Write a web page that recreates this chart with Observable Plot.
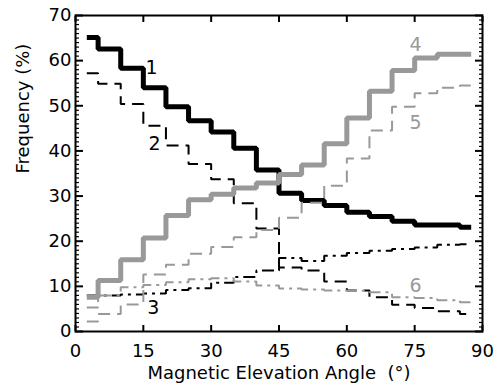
<!DOCTYPE html>
<html>
<head>
<meta charset="utf-8">
<script src="https://cdn.jsdelivr.net/npm/d3@7"></script>
<script src="https://cdn.jsdelivr.net/npm/@observablehq/plot@0.6"></script>
<style>
  html, body { margin: 0; padding: 0; background: white; }
</style>
</head>
<body>
<div id="chart"></div>
<script>
// Bin centres (degrees)
const angles = [2.5, 7.5, 12.5, 17.5, 22.5, 27.5, 32.5, 37.5, 42.5, 47.5, 52.5, 57.5, 62.5, 67.5, 72.5, 77.5, 82.5, 87.5];

// Series values (%)
const series1 = [65.1, 62.6, 58.3, 54.0, 49.8, 46.7, 44.2, 40.6, 35.8, 30.6, 29.0, 27.9, 26.4, 25.5, 24.4, 23.6, 23.6, 23.1];
const series2 = [57.2, 54.9, 50.4, 45.6, 41.2, 37.1, 33.7, 28.4, 22.8, 14.2, 13.5, 11.1, 9.1, 7.6, 5.9, 5.2, 4.5, 3.9];
const series3 = [8.0, 8.0, 8.2, 8.4, 9.2, 9.6, 10.8, 12.1, 13.5, 16.3, 15.6, 16.8, 17.4, 17.9, 18.3, 18.6, 19.2, 19.3];
const series4 = [7.6, 11.3, 15.9, 20.7, 25.7, 29.2, 30.4, 31.8, 32.9, 34.8, 36.9, 41.6, 47.3, 53.2, 57.8, 60.6, 61.4, 61.4];
const series5 = [2.2, 3.9, 6.0, 12.6, 14.8, 17.2, 18.7, 20.9, 22.5, 25.2, 28.5, 32.3, 38.3, 44.5, 49.8, 52.8, 54.0, 54.5];
const series6 = [5.3, 8.0, 9.8, 10.3, 10.9, 11.6, 11.8, 11.1, 10.2, 9.5, 9.3, 9.1, 9.0, 8.7, 7.6, 7.4, 6.9, 6.5];

// Curve labels and their anchor points (data units)
const labelText = ["1", "2", "3", "4", "5", "6"];
const labelX = [16.8, 17.5, 17.2, 75.2, 75.2, 75.2];
const labelY = [58.5, 41.6, 5.3, 63.4, 46.3, 10.2];

// Tick labels
const xTicks = [0, 15, 30, 45, 60, 75, 90];
const yTicks = [0, 10, 20, 30, 40, 50, 60, 70];
const yMinorTicks = d3.range(0, 71).filter(v => v % 10 !== 0);

const xTitle = "Magnetic Elevation Angle\u00a0\u00a0(\u00b0)";
const yTitle = "Frequency (%)";

const GRAY = "#999999";
const FONT = "'DejaVu Sans', Verdana, sans-serif";

const toRows = vals => angles.map((a, i) => ({angle: a, value: vals[i]}));

const styles = [
  {vals: series1, stroke: "black", strokeWidth: 5, dash: null},
  {vals: series2, stroke: "black", strokeWidth: 2, dash: "12,7"},
  {vals: series3, stroke: "black", strokeWidth: 2, dash: "12,5,3,5"},
  {vals: series5, stroke: GRAY, strokeWidth: 2, dash: "12,7"},
  {vals: series6, stroke: GRAY, strokeWidth: 2, dash: "12,5,3,5"},
  {vals: series4, stroke: GRAY, strokeWidth: 5, dash: null}
];

const labels = labelText.map((t, i) => ({text: t, x: labelX[i], y: labelY[i], gray: i >= 3}));

const chart = Plot.plot({
  width: 495,
  height: 386,
  marginLeft: 75,
  marginRight: 13,
  marginTop: 15,
  marginBottom: 55,
  x: {domain: [0, 90]},
  y: {domain: [0, 70]},
  style: {fontFamily: FONT, fontSize: "18px", background: "white", color: "black", overflow: "visible"},
  marks: [
    Plot.axisX(xTicks, {anchor: "bottom", tickSize: 0, tickPadding: 13, fontSize: 18, label: null}),
    Plot.axisX(xTicks, {anchor: "bottom", tickSize: -6, fill: "none", strokeWidth: 2, label: null}),
    Plot.axisX(xTicks, {anchor: "top", tickSize: -6, fill: "none", strokeWidth: 2, label: null}),
    Plot.axisY(yTicks, {anchor: "left", tickSize: 0, tickPadding: 4, fontSize: 18, label: null}),
    Plot.axisY(yTicks, {anchor: "left", tickSize: -8, fill: "none", strokeWidth: 2, label: null}),
    Plot.axisY(yTicks, {anchor: "right", tickSize: -8, fill: "none", strokeWidth: 2, label: null}),
    Plot.axisY(yMinorTicks, {anchor: "left", tickSize: -4, fill: "none", strokeWidth: 1.2, label: null}),
    Plot.axisY(yMinorTicks, {anchor: "right", tickSize: -4, fill: "none", strokeWidth: 1.2, label: null}),
    ...styles.map(s => Plot.line(toRows(s.vals), {
      x: "angle", y: "value", curve: "step",
      stroke: s.stroke, strokeWidth: s.strokeWidth,
      strokeDasharray: s.dash, strokeLinecap: "butt", strokeLinejoin: "miter"
    })),
    Plot.text(labels, {x: "x", y: "y", text: "text", fill: d => d.gray ? GRAY : "black", fontSize: 19}),
    Plot.text([xTitle], {frameAnchor: "bottom", dy: 47, fontSize: 18}),
    Plot.text([yTitle], {frameAnchor: "left", dx: -52, rotate: -90, fontSize: 18}),
    Plot.frame({stroke: "black", strokeWidth: 2})
  ]
});

document.getElementById("chart").appendChild(chart);
</script>
</body>
</html>
